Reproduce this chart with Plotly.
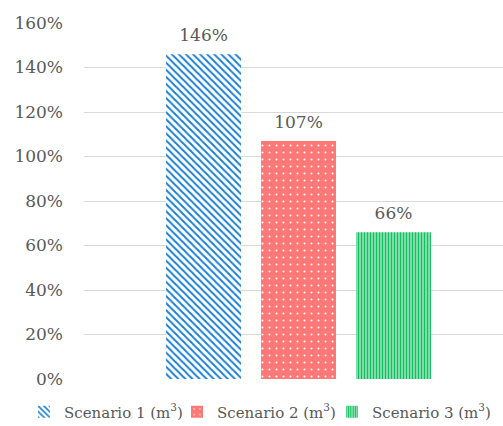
import plotly.graph_objects as go

series_names = ["Scenario 1 (m<sup>3</sup>)", "Scenario 2 (m<sup>3</sup>)", "Scenario 3 (m<sup>3</sup>)"]
series_values = [146, 107, 66]
label_texts = ["146%", "107%", "66%"]
y_ticks = [0, 20, 40, 60, 80, 100, 120, 140, 160]
y_tick_labels = ["0%", "20%", "40%", "60%", "80%", "100%", "120%", "140%", "160%"]
legend_ids = ["legend", "legend2", "legend3"]
group_ids = ["s1", "s2", "s3"]

FONT = "DejaVu Serif"
GRAY = "#595959"

patterns = [
    dict(shape="\\", fgcolor="#1a7fd4", bgcolor="white", size=5, solidity=0.4, fillmode="replace"),
    dict(shape=".", fgcolor="white", bgcolor="#ff7878", size=7, solidity=0.06, fillmode="replace"),
    dict(shape="|", fgcolor="#10c060", bgcolor="#c8f0d8", size=3, solidity=0.6, fillmode="replace"),
]

fig = go.Figure()
for name, val, pat, lg, gid in zip(series_names, series_values, patterns, legend_ids, group_ids):
    fig.add_trace(go.Bar(
        x=[0], y=[val], name=name, legend=lg, offsetgroup=gid,
        marker=dict(color=pat["bgcolor"] if pat["shape"] == "." else pat["fgcolor"], pattern=pat,
                    line=dict(width=0)),
    ))
for val, txt, gid in zip(series_values, label_texts, group_ids):
    fig.add_trace(go.Scatter(
        x=[0], y=[val], mode="markers+text", text=[txt], textposition="top center",
        offsetgroup=gid, showlegend=False, hoverinfo="skip",
        marker=dict(size=13, opacity=0),
        textfont=dict(family=FONT, size=17, color=GRAY),
        cliponaxis=False,
    ))

legend_common = dict(orientation="h", xref="container", xanchor="left",
                      y=0.033, yref="container", yanchor="middle",
                      font=dict(family=FONT, size=15, color=GRAY), itemwidth=30,
                      bgcolor="rgba(0,0,0,0)")
legend_lefts = [24, 177, 332]

fig.update_layout(
    width=503, height=426,
    margin=dict(l=84, r=0, t=23, b=47, autoexpand=False),
    paper_bgcolor="white", plot_bgcolor="white",
    barmode="group", bargap=0.336, bargroupgap=0.2105,
    scattermode="group", scattergap=0.336,
    font=dict(family=FONT, size=17, color=GRAY),
    showlegend=True,
    legend=dict(legend_common, x=legend_lefts[0] / 503),
    legend2=dict(legend_common, x=legend_lefts[1] / 503),
    legend3=dict(legend_common, x=legend_lefts[2] / 503),
)
fig.update_xaxes(range=[-0.5, 0.4766], showticklabels=False, showgrid=False, zeroline=False,
                 fixedrange=True)
fig.update_yaxes(range=[0, 160], tickvals=y_ticks, ticktext=y_tick_labels,
                 showgrid=True, gridcolor="#d9d9d9", gridwidth=1, zeroline=False,
                 ticks="", ticklabelstandoff=20, tickfont=dict(family=FONT, size=17, color=GRAY),
                 showline=False)

fig.write_html("out.html")
